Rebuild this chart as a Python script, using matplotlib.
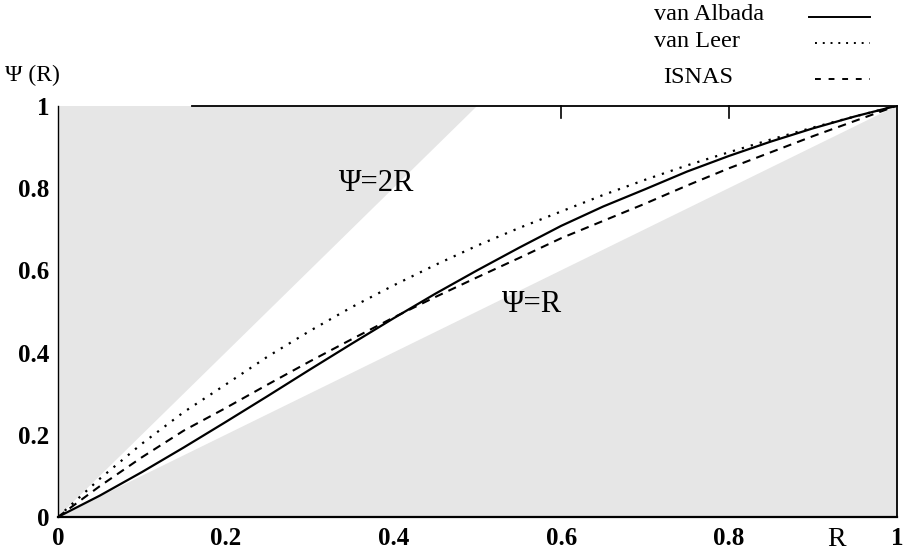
import matplotlib.pyplot as plt
from matplotlib.lines import Line2D

plt.rcParams['font.family'] = ['Liberation Serif', 'DejaVu Serif']

r = [0.0, 0.05, 0.1, 0.15, 0.2, 0.25, 0.3, 0.35, 0.4, 0.45, 0.5,
     0.55, 0.6, 0.65, 0.7, 0.75, 0.8, 0.85, 0.9, 0.95, 1.0]
van_albada = [0.0, 0.052, 0.109, 0.169, 0.231, 0.294, 0.358, 0.421, 0.483, 0.543, 0.600,
              0.655, 0.708, 0.755, 0.797, 0.840, 0.878, 0.913, 0.945, 0.974, 1.0]
van_leer = [0.0, 0.093, 0.178, 0.255, 0.322, 0.39, 0.452, 0.51, 0.563, 0.613, 0.66,
            0.703, 0.743, 0.783, 0.82, 0.855, 0.887, 0.918, 0.947, 0.974, 1.0]
isnas = [0.0, 0.075, 0.145, 0.21, 0.265, 0.322, 0.378, 0.432, 0.485, 0.535, 0.583,
         0.63, 0.678, 0.72, 0.762, 0.806, 0.848, 0.887, 0.926, 0.963, 1.0]

xticks = [0, 0.2, 0.4, 0.6, 0.8, 1]
yticks = [0, 0.2, 0.4, 0.6, 0.8, 1]
tick_labels = ['0', '0.2', '0.4', '0.6', '0.8', '1']

fig = plt.figure(figsize=(9.04, 5.52), dpi=100)
ax = fig.add_axes([0.064, 0.0634, 0.928, 0.745])

grey = '#e6e6e6'
# shaded regions outside the TVD zone
ax.fill([0, 0.5, 0], [0, 1, 1], color=grey, lw=0)
ax.fill([0, 1, 1], [0, 1, 0], color=grey, lw=0)

ax.plot(r, van_albada, 'k-', lw=1.6)
ax.plot(r, van_leer, 'k', ls=(0, (1, 3.2)), lw=1.6)
ax.plot(r, isnas, 'k', ls=(0, (4, 3)), lw=1.5)

ax.set_xlim(0, 1)
ax.set_ylim(0, 1)
ax.set_xticks(xticks)
ax.set_xticklabels(tick_labels)
ax.set_yticks(yticks)
ax.set_yticklabels(tick_labels)
ax.tick_params(length=0, labelsize=18)
ax.tick_params(axis='x', pad=7)
ax.tick_params(axis='y', pad=6)
for lab in ax.get_xticklabels() + ax.get_yticklabels():
    lab.set_fontweight('bold')
ax.spines['top'].set_bounds(0.16, 1)
ax.spines['left'].set_linewidth(1.0)
ax.spines['right'].set_linewidth(1.3)
ax.spines['top'].set_linewidth(1.3)
ax.spines['bottom'].set_linewidth(1.6)

# small inward ticks on the top edge
for xt in [0.6, 0.8]:
    ax.plot([xt, xt], [1, 0.97], 'k-', lw=1.2, clip_on=False)

ax.text(0.38, 0.81, 'Ψ=2R', fontsize=22, ha='center', va='center')
ax.text(0.565, 0.516, 'Ψ=R', fontsize=22, ha='center', va='center')

fig.text(0.006, 0.864, 'Ψ (R)', fontsize=17, va='center')
fig.text(0.925, 0.022, 'R', fontsize=20, ha='center', va='center')

# legend outside the axes, top right
leg = [('van Albada', '-', 0.973, 0.724, 0.895),
       ('van Leer', (0, (1, 3)), 0.925, 0.724, 0.902),
       ('ISNAS', (0, (3, 4)), 0.86, 0.734, 0.902)]
for name, style, yy, tx, x0 in leg:
    fig.text(tx, yy, name, fontsize=17.5, va='center')
    fig.add_artist(Line2D([x0, 0.962], [yy - 0.003, yy - 0.003], color='k',
                          ls=style, lw=1.4, transform=fig.transFigure))

fig.savefig('out.png', dpi=100)
